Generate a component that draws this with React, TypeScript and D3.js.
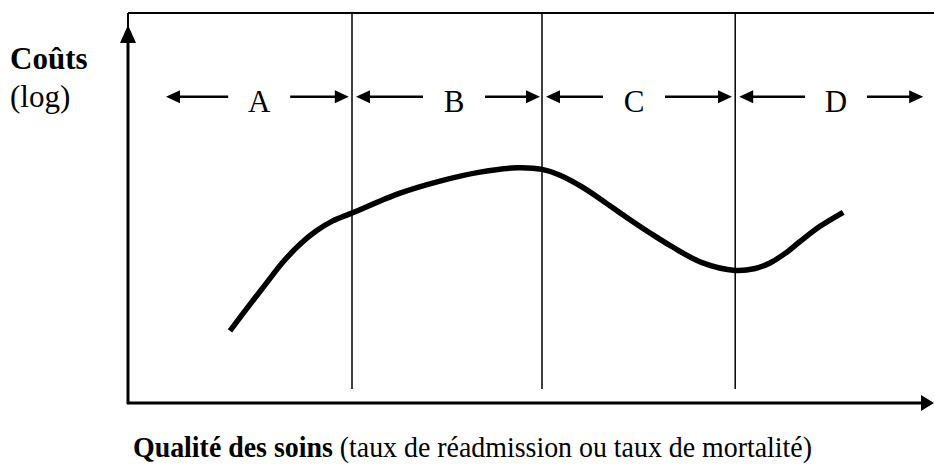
import React from "react";
import * as d3 from "d3";

const W = 934;
const H = 472;

// Curve data (quality units 0-100, log-cost units 0-100)
const curveQuality = [12.75, 15.25, 17.4, 19.4, 21.5, 23.6, 25.6, 28, 34, 39, 44, 48.6, 51.75, 54, 56.75, 59.6, 62.25, 65.25, 67.9, 71.75, 75.9, 78.4, 80.25, 82.1, 84, 86.5, 89.4];
const curveCost = [18.5, 25.3, 31.0, 36.2, 40.7, 44.2, 46.7, 48.7, 53.8, 56.9, 59.2, 60.3, 59.9, 58.4, 55.4, 51.5, 47.7, 43.6, 40.2, 36.0, 34.0, 34.5, 35.9, 38.3, 41.4, 45.3, 48.9];

// Zones
const zoneLabels = ["A", "B", "C", "D"];
const zoneLabelX = [16.4, 40.75, 63.25, 88.5];
const zoneLeftTip = [4.75, 28.5, 52.25, 76.4];
const zoneRightTip = [27.6, 51.5, 75.5, 99.4];
const dividers = [28, 51.75, 75.9];

const yTitleBold = "Coûts";
const yTitleRegular = "(log)";
const xTitleBold = "Qualité des soins";
const xTitleRegular = " (taux de réadmission ou taux de mortalité)";

const FONT = "Liberation Serif, Times New Roman, serif";

export default function App() {
  const x = d3.scaleLinear().domain([0, 100]).range([128, 928]);
  const y = d3.scaleLinear().domain([0, 100]).range([403, 13]);

  const pts: [number, number][] = curveQuality.map((q, i) => [x(q), y(curveCost[i])]);
  const line = d3.line().curve(d3.curveCatmullRom.alpha(0.5));
  const curvePath = line(pts) || "";

  const arrowY = y(78.5);
  const gap = 31;
  const headL = 14;
  const headW = 6.5;

  const head = (tip: number, dir: number, yy: number) =>
    `M${tip},${yy} L${tip - dir * headL},${yy - headW} L${tip - dir * headL},${yy + headW} Z`;

  const x0 = x(0);
  const yTop = y(100);
  const yBase = y(0);

  const textStyle = { fontFamily: FONT };

  return (
    <svg width={W} height={H} style={{ position: "absolute", left: 0, top: 0, background: "#fff" }}>
      <rect x={0} y={0} width={W} height={H} fill="#fff" />
      {/* box top line */}
      <line x1={x0} x2={W} y1={yTop} y2={yTop} stroke="#000" strokeWidth={2} />
      <line x1={x0} x2={x0} y1={yTop} y2={yTop + 14} stroke="#000" strokeWidth={2} />
      {/* y axis */}
      <line x1={x0} x2={x0} y1={yBase + 1} y2={yTop + 25} stroke="#000" strokeWidth={3} />
      <path d={`M${x0},${yTop + 12} L${x0 - 8},${yTop + 30} L${x0 + 8},${yTop + 30} Z`} fill="#000" />
      {/* x axis */}
      <line x1={x0 - 1} x2={W - 10} y1={yBase} y2={yBase} stroke="#000" strokeWidth={3} />
      <path d={`M${W},${yBase} L${W - 13},${yBase - 8} L${W - 13},${yBase + 8} Z`} fill="#000" />
      {/* dividers */}
      {dividers.map((d, i) => (
        <line key={i} x1={x(d)} x2={x(d)} y1={yTop} y2={y(3.6)} stroke="#000" strokeWidth={1.5} />
      ))}
      {/* zone arrows and labels */}
      {zoneLabels.map((lab, i) => {
        const cx = x(zoneLabelX[i]);
        const lt = x(zoneLeftTip[i]);
        const rt = x(zoneRightTip[i]);
        return (
          <g key={lab}>
            <line x1={lt + headL - 1} x2={cx - gap} y1={arrowY} y2={arrowY} stroke="#000" strokeWidth={2.5} />
            <path d={head(lt, -1, arrowY)} fill="#000" />
            <line x1={cx + gap} x2={rt - headL + 1} y1={arrowY} y2={arrowY} stroke="#000" strokeWidth={2.5} />
            <path d={head(rt, 1, arrowY)} fill="#000" />
            <text x={cx} y={arrowY + 15} textAnchor="middle" style={textStyle} fontSize={31} fill="#000">
              {lab}
            </text>
          </g>
        );
      })}
      {/* curve */}
      <path d={curvePath} fill="none" stroke="#000" strokeWidth={5.5} strokeLinecap="butt" strokeLinejoin="round" />
      {/* y title */}
      <text x={10} y={69} style={textStyle} fontSize={31} fontWeight="bold" fill="#000">{yTitleBold}</text>
      <text x={10} y={107} style={textStyle} fontSize={31} fill="#000">{yTitleRegular}</text>
      {/* x title */}
      <text x={133} y={457} style={textStyle} fontSize={30} fill="#000" textLength={679} lengthAdjust="spacingAndGlyphs">
        <tspan fontWeight="bold">{xTitleBold}</tspan>
        <tspan>{xTitleRegular}</tspan>
      </text>
    </svg>
  );
}
